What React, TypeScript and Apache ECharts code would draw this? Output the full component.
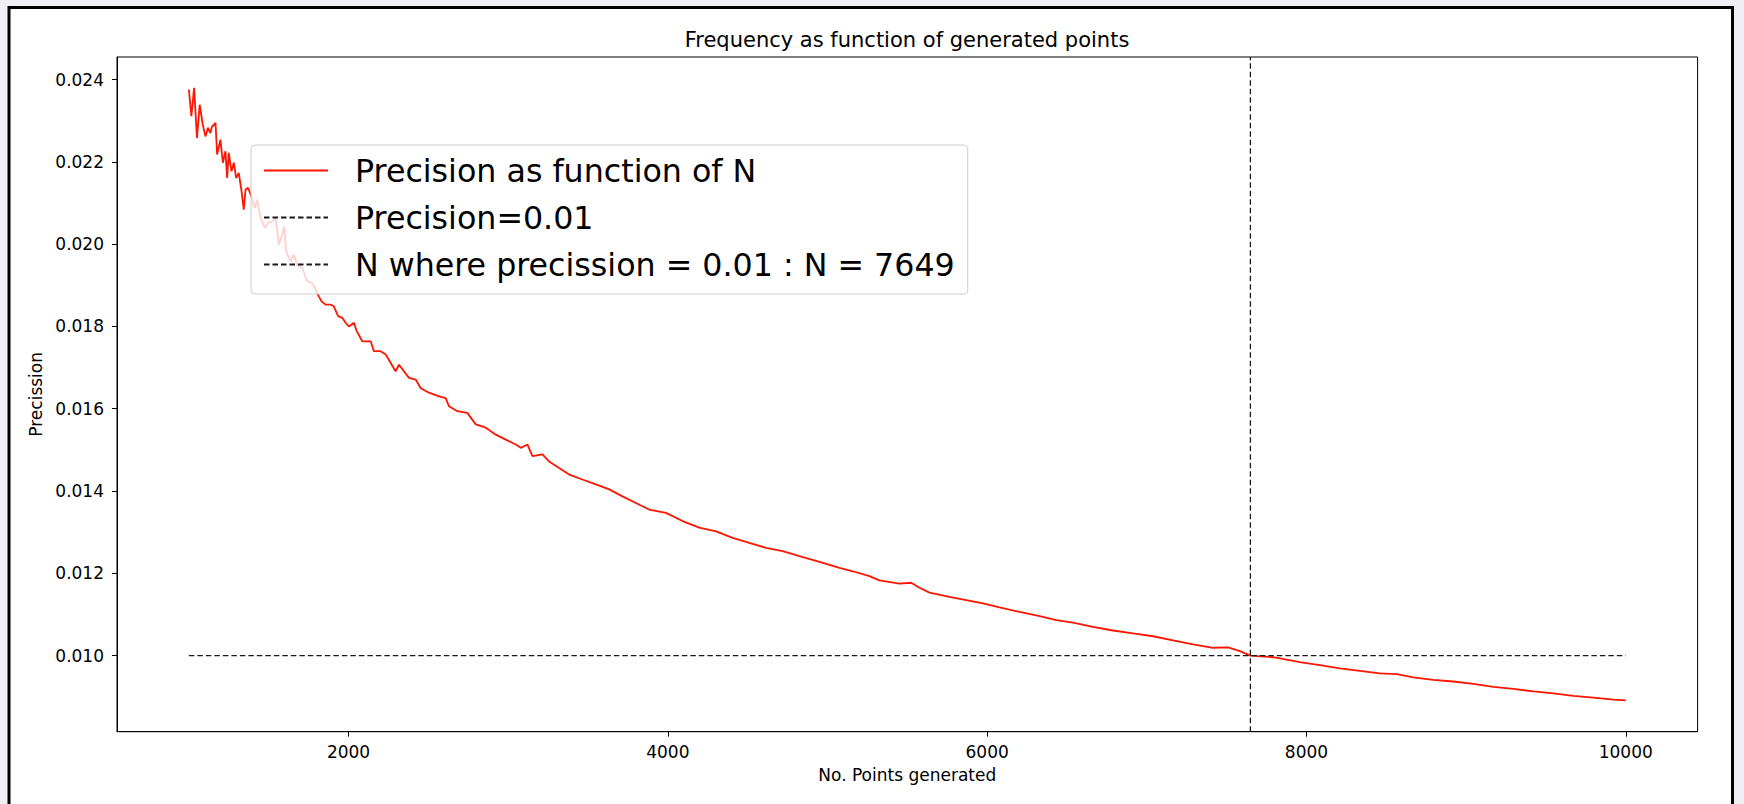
import React, { useEffect, useRef } from "react";
import * as echarts from "echarts";

const TITLE = "Frequency as function of generated points";
const X_NAME = "No. Points generated";
const Y_NAME = "Precission";
const LEGEND_LABELS = [
  "Precision as function of N",
  "Precision=0.01",
  "N where precission = 0.01 : N = 7649",
];

const N_POINTS = [
  1000, 1016, 1033, 1051, 1068, 1087, 1104, 1120, 1135, 1145, 1167, 1177, 1198, 1213, 1229, 1240,
  1250, 1267, 1282, 1296, 1313, 1330, 1344, 1355, 1371, 1392, 1413, 1428, 1449, 1476, 1497, 1522,
  1543, 1564, 1584, 1597, 1609, 1637, 1658, 1678, 1710, 1741, 1772, 1789, 1814, 1831, 1856, 1888,
  1908, 1935, 1961, 1982, 2003, 2034, 2050, 2086, 2139, 2159, 2201, 2233, 2295, 2316, 2379, 2421,
  2452, 2504, 2567, 2609, 2629, 2682, 2744, 2797, 2860, 2922, 2985, 3048, 3079, 3121, 3152, 3215,
  3256, 3319, 3382, 3465, 3549, 3633, 3716, 3800, 3883, 3988, 4092, 4197, 4302, 4406, 4510, 4615,
  4719, 4824, 4950, 5075, 5158, 5263, 5325, 5451, 5524, 5576, 5639, 5764, 5869, 5973, 6078, 6203,
  6329, 6433, 6537, 6663, 6788, 6913, 7039, 7164, 7290, 7415, 7509, 7583, 7649, 7792, 7958, 8084,
  8209, 8334, 8460, 8565, 8669, 8794, 8920, 9045, 9171, 9296, 9421, 9547, 9672, 9797, 9923, 10000,
];

const PRECISION = [
  0.02376, 0.02311, 0.0238, 0.02258, 0.02339, 0.02291, 0.02262, 0.02283, 0.0227, 0.02286, 0.02295,
  0.02218, 0.02254, 0.02198, 0.02226, 0.02161, 0.02222, 0.02177, 0.02198, 0.02161, 0.02173, 0.02129,
  0.02084, 0.02133, 0.02137, 0.02116, 0.02088, 0.02108, 0.02064, 0.0204, 0.02052, 0.02056, 0.02064,
  0.01999, 0.02023, 0.02043, 0.01983, 0.01958, 0.01975, 0.0195, 0.01942, 0.0191, 0.01906, 0.01894,
  0.01873, 0.01861, 0.01853, 0.01853, 0.01849, 0.01825, 0.01821, 0.01809, 0.018, 0.01809, 0.0179,
  0.01764, 0.01764, 0.0174, 0.0174, 0.01732, 0.01691, 0.01707, 0.01675, 0.01671, 0.0165, 0.01639,
  0.0163, 0.01626, 0.01606, 0.01594, 0.0159, 0.01562, 0.01554, 0.01537, 0.01525, 0.01513, 0.01505,
  0.01513, 0.01485, 0.01489, 0.01472, 0.01456, 0.0144, 0.01428, 0.01416, 0.01404, 0.01387, 0.01371,
  0.01355, 0.01347, 0.01327, 0.01311, 0.01302, 0.01286, 0.01274, 0.01262, 0.01254, 0.01242, 0.01228,
  0.01213, 0.01205, 0.01193, 0.01183, 0.01175, 0.01177, 0.01165, 0.01153, 0.01143, 0.01135, 0.01127,
  0.01117, 0.01106, 0.01096, 0.01086, 0.0108, 0.0107, 0.01061, 0.01054, 0.01047, 0.01037, 0.01027,
  0.01019, 0.0102, 0.01011, 0.01, 0.00996, 0.00984, 0.00977, 0.00969, 0.00963, 0.00957, 0.00955,
  0.00947, 0.00941, 0.00937, 0.00931, 0.00924, 0.00919, 0.00913, 0.00908, 0.00902, 0.00898, 0.00893,
  0.00891,
];

const TARGET_PRECISION = 0.01;
const HLINE_N = [1000, 10000];
const N_AT_TARGET = 7649;
const X_TICKS = [2000, 4000, 6000, 8000, 10000];
const Y_TICKS = [0.01, 0.012, 0.014, 0.016, 0.018, 0.02, 0.022, 0.024];
const X_RANGE = [550, 10450];
const Y_RANGE = [0.00815, 0.02455];

export default function App() {
  const ref = useRef<HTMLDivElement>(null);

  useEffect(() => {
    if (!ref.current) return;
    const chart = echarts.init(ref.current, null, { renderer: "svg" });
    const font = "DejaVu Sans";
    const red = "#ff1500";
    const dark = "#1a1a1a";
    const axisText = { fontFamily: font, fontSize: 17, color: "#000" };

    chart.setOption({
      animation: false,
      backgroundColor: "#eef0f3",
      graphic: [
        {
          type: "rect",
          z: -10,
          shape: { x: 9, y: 7.5, width: 1723.5, height: 830 },
          style: { fill: "#ffffff", stroke: "#000000", lineWidth: 3 },
        },
      ],
      title: {
        text: TITLE,
        left: 907,
        top: 29,
        textAlign: "center",
        padding: 0,
        textStyle: { fontFamily: font, fontSize: 21, fontWeight: "normal", color: "#000" },
      },
      legend: {
        show: true,
        orient: "vertical",
        left: 251,
        top: 145,
        padding: [2, 13, 6, 12],
        itemGap: 0,
        itemWidth: 64,
        itemHeight: 1,
        itemStyle: { opacity: 0, borderWidth: 0 },
        backgroundColor: "rgba(255,255,255,0.8)",
        borderColor: "#cccccc",
        borderWidth: 1,
        borderRadius: 4,
        selectedMode: false,
        data: LEGEND_LABELS,
        z: 10,
        textStyle: {
          fontFamily: font,
          fontSize: 31.7,
          color: "#000",
          lineHeight: 47,
          padding: [0, 0, 0, 22],
        },
      },
      grid: {
        left: 117,
        right: 46.4,
        top: 57,
        bottom: 72.3,
        show: true,
        borderColor: "#000",
        borderWidth: 1,
        backgroundColor: "transparent",
        containLabel: false,
        outerBoundsMode: "none",
      },
      xAxis: {
        type: "value",
        min: X_RANGE[0],
        max: X_RANGE[1],
        name: X_NAME,
        nameLocation: "middle",
        nameGap: 35,
        nameTextStyle: axisText,
        axisLine: { show: true, onZero: false, lineStyle: { color: "#000", width: 1 } },
        axisTick: { show: true, inside: false, length: 5, customValues: X_TICKS, lineStyle: { color: "#000" } },
        axisLabel: {
          ...axisText,
          customValues: X_TICKS,
          margin: 12,
          formatter: (v: number) => String(v),
        },
        splitLine: { show: false },
      },
      yAxis: {
        type: "value",
        min: Y_RANGE[0],
        max: Y_RANGE[1],
        name: Y_NAME,
        nameLocation: "middle",
        nameRotate: 90,
        nameGap: 71,
        nameTextStyle: axisText,
        axisLine: { show: true, onZero: false, lineStyle: { color: "#000", width: 1 } },
        axisTick: { show: true, inside: false, length: 5, customValues: Y_TICKS, lineStyle: { color: "#000" } },
        axisLabel: {
          ...axisText,
          customValues: Y_TICKS,
          margin: 13,
          formatter: (v: number) => v.toFixed(3),
        },
        splitLine: { show: false },
      },
      series: [
        {
          name: LEGEND_LABELS[0],
          type: "line",
          data: N_POINTS.map((n, i) => [n, PRECISION[i]]),
          symbol: "none",
          lineStyle: { color: red, width: 1.8 },
          itemStyle: { color: red },
          z: 2,
        },
        {
          name: LEGEND_LABELS[1],
          type: "line",
          data: HLINE_N.map((n) => [n, TARGET_PRECISION]),
          symbol: "none",
          lineStyle: { color: dark, width: 1.3, type: [5.5, 3] },
          itemStyle: { color: dark },
          z: 3,
        },
        {
          name: LEGEND_LABELS[2],
          type: "line",
          data: Y_RANGE.map((v) => [N_AT_TARGET, v]),
          symbol: "none",
          lineStyle: { color: dark, width: 1.3, type: [5.5, 3] },
          itemStyle: { color: dark },
          z: 3,
        },
      ],
    });

    return () => chart.dispose();
  }, []);

  return (
    <div
      ref={ref}
      style={{ position: "fixed", left: 0, top: 0, width: 1744, height: 804 }}
    />
  );
}
